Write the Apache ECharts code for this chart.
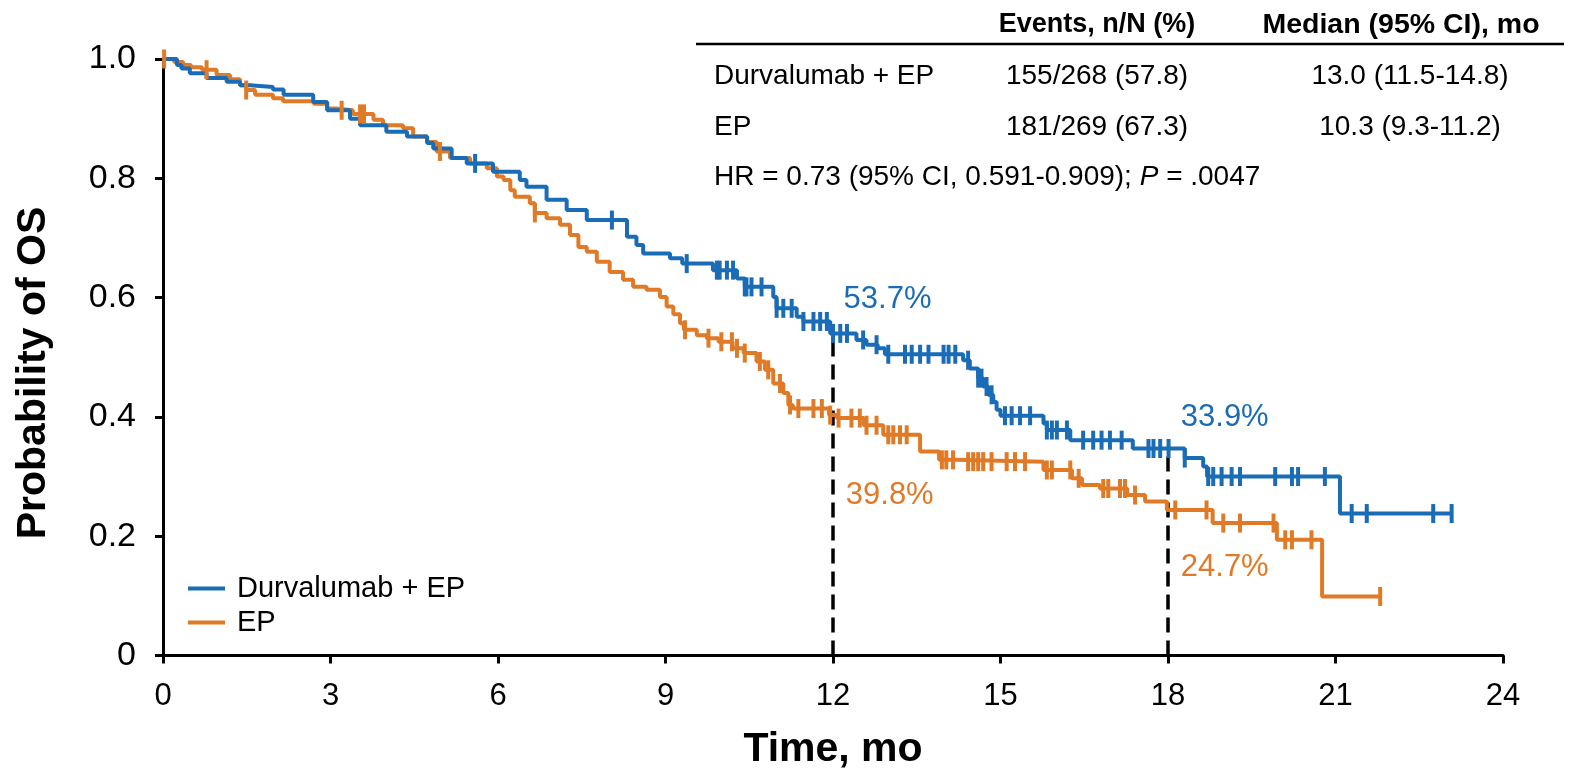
<!DOCTYPE html>
<html>
<head>
<meta charset="utf-8">
<script src="https://cdn.jsdelivr.net/npm/echarts@6/dist/echarts.min.js"></script>
<style>
html,body{margin:0;padding:0;background:#fff;}
#chart{width:1582px;height:768px;}
</style>
</head>
<body>
<div id="chart"></div>
<script>
// ---------------- DATA ----------------
const seriesNames = ['Durvalumab + EP', 'EP'];
const xTicks = [0, 3, 6, 9, 12, 15, 18, 21, 24];
const yTickLabels = ['0', '0.2', '0.4', '0.6', '0.8', '1.0'];

// Kaplan-Meier events: [time (mo), survival after event]
const blueEvents = [
  [0,1.0],[0.25,0.99],[0.33,0.984],[0.48,0.976],[0.78,0.968],[1.14,0.962],[1.38,0.956],[1.56,0.953],
  [1.97,0.949],[2.16,0.940],[2.69,0.928],[2.94,0.914],[3.35,0.900],[3.53,0.889],[4.0,0.878],[4.37,0.870],
  [4.73,0.859],[4.84,0.850],[5.17,0.834],[5.44,0.825],[5.91,0.811],[6.39,0.797],[6.51,0.786],[6.87,0.764],
  [7.23,0.747],[7.59,0.730],[8.31,0.702],[8.48,0.688],[8.60,0.674],[9.08,0.666],[9.30,0.657],[9.85,0.646],
  [10.28,0.632],[10.42,0.618],[10.93,0.601],[10.99,0.582],[11.35,0.568],[11.47,0.560],[11.95,0.540],
  [12.42,0.529],[12.6,0.521],[12.8,0.515],[12.93,0.505],[14.33,0.495],[14.45,0.481],[14.6,0.465],
  [14.69,0.451],[14.78,0.437],[14.87,0.425],[14.93,0.412],[15.0,0.402],[15.77,0.389],[15.83,0.378],
  [16.25,0.361],[17.37,0.347],[18.3,0.331],[18.63,0.317],[18.7,0.300],[21.08,0.238],[23.08,0.238]
];
const blueCensor = [
  5.59,8.04,9.38,9.92,9.97,10.1,10.21,10.42,10.45,10.54,10.72,10.99,11.11,11.26,11.47,11.65,11.77,11.89,
  12.0,12.13,12.25,12.54,12.78,12.99,13.29,13.41,13.56,13.71,13.98,14.07,14.19,14.42,14.6,14.66,14.75,14.84,
  15.08,15.2,15.35,15.53,15.83,15.92,16.01,16.19,16.48,16.66,16.81,16.96,17.17,17.65,17.74,17.86,18.01,
  18.3,18.72,18.81,18.96,19.14,19.29,19.92,20.22,20.33,20.81,21.29,21.56,22.75,23.08
];
const orangeEvents = [
  [0,1.0],[0.2,0.995],[0.36,0.990],[0.5,0.986],[0.7,0.982],[0.96,0.973],[1.2,0.966],[1.38,0.956],
  [1.49,0.948],[1.65,0.940],[1.97,0.934],[2.15,0.929],[2.7,0.925],[2.94,0.917],[3.1,0.914],[3.4,0.908],
  [3.77,0.898],[3.94,0.889],[4.3,0.884],[4.48,0.870],[4.73,0.861],[4.9,0.845],[5.14,0.834],[5.5,0.825],
  [5.8,0.817],[5.98,0.803],[6.1,0.797],[6.22,0.780],[6.3,0.769],[6.57,0.758],[6.66,0.742],[6.87,0.733],
  [7.11,0.722],[7.29,0.705],[7.44,0.685],[7.59,0.677],[7.77,0.660],[8.0,0.643],[8.24,0.630],[8.42,0.618],
  [8.66,0.613],[8.9,0.601],[9.02,0.585],[9.14,0.572],[9.26,0.557],[9.33,0.546],[9.56,0.537],[9.74,0.532],
  [9.95,0.526],[10.2,0.515],[10.4,0.507],[10.63,0.493],[10.78,0.479],[10.93,0.456],[11.11,0.44],[11.2,0.420],
  [11.28,0.414],[11.93,0.403],[12.07,0.398],[12.55,0.386],[12.9,0.370],[13.56,0.342],[13.9,0.328],
  [14.2,0.325],[15.77,0.311],[16.28,0.297],[16.46,0.286],[16.78,0.280],[17.27,0.269],[17.59,0.258],
  [17.98,0.244],[18.8,0.222],[19.95,0.194],[20.76,0.099],[21.8,0.099]
];
const orangeCensor = [
  0.02,0.78,1.49,3.2,3.53,3.6,4.96,6.66,9.35,9.77,10.0,10.19,10.28,10.42,10.69,10.84,11.05,11.23,11.38,
  11.65,11.8,11.95,12.1,12.33,12.48,12.6,12.78,12.99,13.08,13.2,13.32,13.95,14.03,14.15,14.42,14.51,14.6,
  14.69,14.84,15.11,15.26,15.44,15.83,15.92,16.25,16.4,16.84,16.93,17.14,17.23,17.41,18.13,18.69,18.99,
  19.29,19.89,20.1,20.22,20.57,21.8
];
// landmark reference lines: [time, survival]
const refLines = [[12, 0.537], [18, 0.343]];
// landmark annotations: [time, y, text, seriesIndex]
const annotations = [
  [12.18, 0.597, '53.7%', 0],
  [12.22, 0.269, '39.8%', 1],
  [18.22, 0.399, '33.9%', 0],
  [18.22, 0.147, '24.7%', 1]
];
// table
const tableHeaders = ['Events, n/N (%)', 'Median (95% CI), mo'];
const tableRows = [
  ['Durvalumab + EP', '155/268 (57.8)', '13.0 (11.5-14.8)'],
  ['EP', '181/269 (67.3)', '10.3 (9.3-11.2)']
];
const hrText = ['HR = 0.73 (95% CI, 0.591-0.909); ', 'P', ' = .0047'];

// ---------------- STYLE ----------------
const colors = ['#1a6cb6', '#e07a27'];
const FONT = '"Liberation Sans", Arial, Helvetica, sans-serif';

function survAt(events, t) {
  let s = events[0][1];
  for (const e of events) { if (e[0] <= t + 1e-9) s = e[1]; else break; }
  return s;
}

const chart = echarts.init(document.getElementById('chart'), null, {renderer: 'canvas'});

const series = [];
const evs = [blueEvents, orangeEvents];
const cens = [blueCensor, orangeCensor];
[1, 0].forEach(i => {
  series.push({
    name: seriesNames[i], type: 'line', step: 'end', data: evs[i], showSymbol: false,
    lineStyle: {color: colors[i], width: 4}, itemStyle: {color: colors[i]},
    z: 3, animation: false, silent: true
  });
  series.push({
    name: seriesNames[i] + ' censored', type: 'scatter',
    data: cens[i].map(t => [t, survAt(evs[i], t)]),
    symbol: 'rect', symbolSize: [4, 19],
    itemStyle: {color: colors[i], opacity: 1}, z: 4, animation: false, silent: true
  });
});
refLines.forEach((r, k) => {
  series.push({
    name: 'ref' + k, type: 'line', data: [[r[0], 0], [r[0], r[1]]], showSymbol: false,
    lineStyle: {color: '#000', width: 3.5, type: [15, 8]}, z: 2, animation: false, silent: true
  });
});
series.push({
  name: 'annotations', type: 'scatter', symbolSize: 1, itemStyle: {color: 'rgba(0,0,0,0)', opacity: 1},
  data: annotations.map(a => ({value: [a[0], a[1]], label: {
    show: true, position: 'right', distance: 0, formatter: a[2],
    color: colors[a[3]], fontSize: 31, fontFamily: FONT
  }})),
  z: 5, animation: false, silent: true
});

const graphics = [];
graphics.push({type: 'text', x: 1097, y: 25, style: {text: tableHeaders[0], font: 'bold 27px ' + FONT, fill: '#000', textAlign: 'center', textVerticalAlign: 'middle'}});
graphics.push({type: 'text', x: 1401, y: 25, style: {text: tableHeaders[1], font: 'bold 28.5px ' + FONT, fill: '#000', textAlign: 'center', textVerticalAlign: 'middle'}});
graphics.push({type: 'line', shape: {x1: 696, y1: 44, x2: 1564, y2: 44}, style: {stroke: '#000', lineWidth: 2.5}});
const rowY = [76, 127];
tableRows.forEach((r, k) => {
  graphics.push({type: 'text', x: 714, y: rowY[k], style: {text: r[0], font: '28px ' + FONT, fill: '#000', textAlign: 'left', textVerticalAlign: 'middle'}});
  graphics.push({type: 'text', x: 1097, y: rowY[k], style: {text: r[1], font: '28px ' + FONT, fill: '#000', textAlign: 'center', textVerticalAlign: 'middle'}});
  graphics.push({type: 'text', x: 1410, y: rowY[k], style: {text: r[2], font: '28px ' + FONT, fill: '#000', textAlign: 'center', textVerticalAlign: 'middle'}});
});
graphics.push({type: 'text', x: 714, y: 177, style: {
  text: '{a|' + hrText[0] + '}{i|' + hrText[1] + '}{a|' + hrText[2] + '}',
  rich: {a: {font: '28px ' + FONT, fill: '#000'}, i: {font: 'italic 28px ' + FONT, fill: '#000'}},
  textAlign: 'left', textVerticalAlign: 'middle'}});
graphics.push({type: 'text', x: 34, y: 373, rotation: Math.PI / 2, style: {
  text: 'Probability of OS', font: 'bold 41px ' + FONT, fill: '#000', textAlign: 'center', textVerticalAlign: 'middle'}});

chart.setOption({
  animation: false,
  backgroundColor: '#fff',
  grid: {left: 163, right: 79, top: 59, bottom: 112.5, containLabel: false, outerBoundsMode: 'none'},
  legend: {
    data: seriesNames, orient: 'vertical', left: 183, top: 569,
    icon: 'rect', itemWidth: 37, itemHeight: 4, itemGap: 5,
    textStyle: {fontSize: 29, fontFamily: FONT, color: '#000', padding: [0, 0, 0, 7]},
    selectedMode: false
  },
  xAxis: {
    type: 'value', min: 0, max: 24, interval: 3,
    name: 'Time, mo', nameLocation: 'middle', nameGap: 74,
    nameTextStyle: {fontSize: 41, fontWeight: 'bold', fontFamily: FONT, color: '#000'},
    axisLine: {lineStyle: {color: '#000', width: 3}},
    axisTick: {show: true, length: 8, lineStyle: {color: '#000', width: 3}},
    axisLabel: {fontSize: 31, fontFamily: FONT, color: '#000', margin: 25,
      formatter: v => String(xTicks[xTicks.indexOf(v)])},
    splitLine: {show: false}
  },
  yAxis: {
    type: 'value', min: 0, max: 1, interval: 0.2,
    axisLine: {show: true, lineStyle: {color: '#000', width: 3}},
    axisTick: {show: true, length: 8, lineStyle: {color: '#000', width: 3}},
    axisLabel: {fontSize: 34, fontFamily: FONT, color: '#000', margin: 27,
      formatter: v => yTickLabels[Math.round(v / 0.2)]},
    splitLine: {show: false}
  },
  graphic: graphics,
  series: series
});
</script>
</body>
</html>
